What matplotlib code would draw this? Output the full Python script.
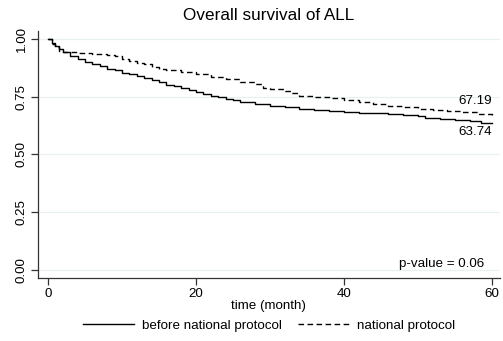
import matplotlib
matplotlib.use("Agg")
import matplotlib.pyplot as plt

plt.rcParams['font.family'] = ['Liberation Sans', 'DejaVu Sans']

# Kaplan-Meier estimates (months, survival)
t_before = [0, 0.5, 1, 1.5, 2, 3, 4, 5, 6, 7, 8, 9, 10, 11, 12, 13, 14, 15, 16, 17, 18, 19, 20,
            21, 22, 23, 24, 25, 26, 28, 30, 32, 34, 36, 38, 40, 42, 44, 46, 48, 50, 51, 53,
            55, 57, 58.5, 60]
s_before = [1, 0.985, 0.97, 0.955, 0.945, 0.925, 0.912, 0.900, 0.893, 0.884, 0.872, 0.864,
            0.855, 0.848, 0.841, 0.832, 0.822, 0.812, 0.802, 0.795, 0.786, 0.779, 0.770,
            0.763, 0.755, 0.748, 0.741, 0.734, 0.728, 0.72, 0.712, 0.704, 0.698, 0.692,
            0.688, 0.685, 0.681, 0.678, 0.675, 0.671, 0.668, 0.660, 0.655, 0.650, 0.645,
            0.6374, 0.6374]

t_national = [0, 0.5, 1, 1.5, 2, 4, 6, 8, 9, 10, 11, 12, 13, 14, 15, 16, 18, 20, 22, 24, 26,
              28, 29, 30, 32, 33, 34, 36, 38, 40, 42, 44, 46, 48, 50, 52, 54, 56, 58, 60]
s_national = [1.0, 0.98, 0.965, 0.95, 0.942, 0.940, 0.937, 0.933, 0.925, 0.915, 0.905, 0.897,
              0.89, 0.88, 0.872, 0.868, 0.858, 0.848, 0.835, 0.825, 0.815, 0.805, 0.79,
              0.782, 0.776, 0.765, 0.755, 0.75, 0.744, 0.737, 0.727, 0.72, 0.712, 0.705,
              0.698, 0.692, 0.687, 0.682, 0.677, 0.6719]

labels = ['before national protocol', 'national protocol']
end_text = ['63.74', '67.19']
x_ticks = [0, 20, 40, 60]
y_ticks = [0.0, 0.25, 0.5, 0.75, 1.0]

fs = 9.6

fig = plt.figure(figsize=(5.03, 3.41), dpi=100)
ax = fig.add_axes([0.0755, 0.185, 0.9185, 0.724])

ax.step(t_before, s_before, where='post', color='black', lw=1.0, label=labels[0])
ax.step(t_national, s_national, where='post', color='black', lw=1.0,
        linestyle=(0, (4, 2.5)), label=labels[1])

ax.set_xlim(-1.35, 61.1)
ax.set_ylim(-0.035, 1.035)
ax.set_xticks(x_ticks)
ax.set_yticks(y_ticks)
ax.set_yticklabels(['%.2f' % v for v in y_ticks], rotation=90, va='center')
ax.tick_params(labelsize=fs, length=5, width=0.9, color='#333333', pad=2.5)
ax.grid(axis='y', color='#e8f0f2', lw=0.9)
ax.set_axisbelow(True)
for side in ['top', 'right']:
    ax.spines[side].set_visible(False)
for side in ['left', 'bottom']:
    ax.spines[side].set_linewidth(0.9)
    ax.spines[side].set_color('#333333')

ax.set_xlabel('time (month)', fontsize=fs, labelpad=0)
ax.set_title('Overall survival of ALL', fontsize=12.3, pad=8)

ax.text(60, s_national[-1] + 0.062, end_text[1], ha='right', va='center', fontsize=fs)
ax.text(60, s_before[-1] - 0.042, end_text[0], ha='right', va='center', fontsize=fs)
ax.text(59, 0.025, 'p-value = 0.06', ha='right', va='center', fontsize=fs)

fig.legend(loc='center', bbox_to_anchor=(0.535, 0.045), ncol=2, frameon=False,
           fontsize=fs, handlelength=3.8, columnspacing=1.2, handletextpad=0.6)

fig.savefig('out.png', dpi=100)
